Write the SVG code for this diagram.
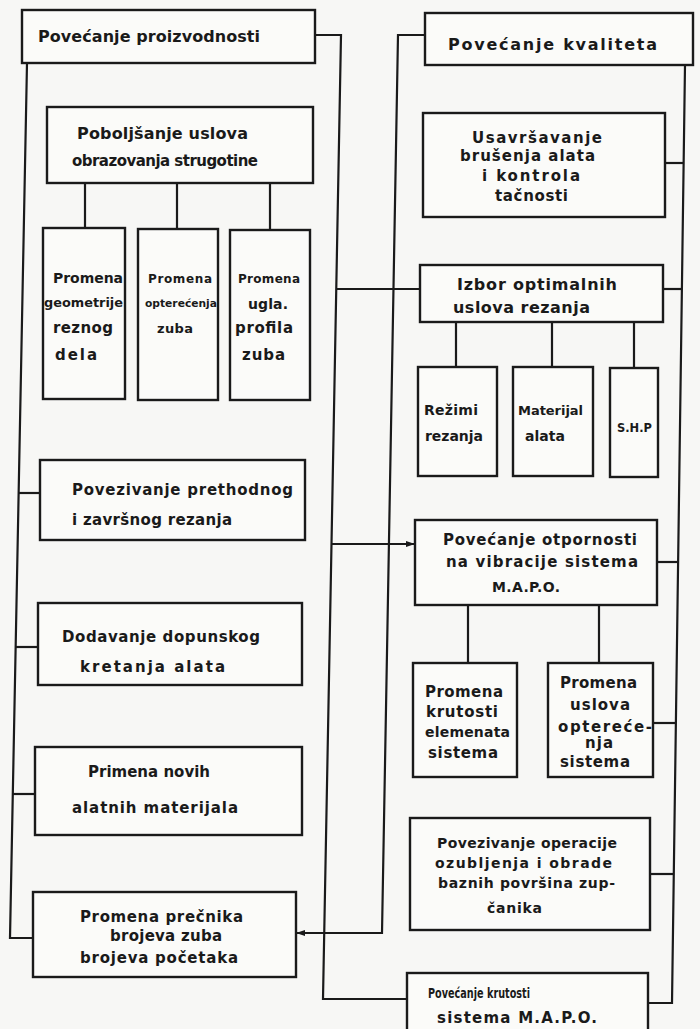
<svg xmlns="http://www.w3.org/2000/svg" width="700" height="1029" viewBox="0 0 700 1029">
<defs>
<style>
.bx{fill:#fbfbf9;stroke:#1a1a1a;stroke-width:2.4}
.ln{fill:none;stroke:#1a1a1a;stroke-width:2.2}
.t{font-family:"DejaVu Sans","Liberation Sans",sans-serif;font-weight:bold;font-size:15px;fill:#1a1a1a}
.l{font-size:16px}
.m{font-size:14px}
.s{font-size:13px}
.xs{font-size:12px}
.xxs{font-size:11px}
</style>
<marker id="ar" markerWidth="9" markerHeight="6" refX="8" refY="3" orient="auto" markerUnits="userSpaceOnUse">
<path d="M0,0 L9,3 L0,6 Z" fill="#1a1a1a"/>
</marker>
</defs>
<rect x="0" y="0" width="700" height="1029" fill="#f7f7f5"/>

<g id="connectors">
<path class="ln" d="M27,63 L10,938 L33,938"/>
<path class="ln" d="M18.6,493 H40"/>
<path class="ln" d="M15.6,647 H38"/>
<path class="ln" d="M12.8,794 H35"/>
<path class="ln" d="M315,35 H341 L323,999 H407"/>
<path class="ln" d="M336.3,289 H420"/>
<path class="ln" d="M331.5,544 H414" marker-end="url(#ar)"/>
<path class="ln" d="M425,35 H398 L382,933 H297" marker-end="url(#ar)"/>
<path class="ln" d="M685,65 L672,1003 H648"/>
<path class="ln" d="M665,163 H683.6"/>
<path class="ln" d="M663,289 H681.9"/>
<path class="ln" d="M657,562 H678.1"/>
<path class="ln" d="M653,723 H675.9"/>
<path class="ln" d="M650,874 H673.8"/>
<path class="ln" d="M85,183 V228 M177,183 V229 M270,183 V230"/>
<path class="ln" d="M456,322 V367 M552,322 V367 M634,322 V368"/>
<path class="ln" d="M468,605 V663 M599,605 V663"/>
</g>

<g id="n1"><rect class="bx" x="22" y="10" width="293" height="53"/>
<text class="t l" x="38" y="42" textLength="222" lengthAdjust="spacing">Povećanje proizvodnosti</text></g>

<g id="n2"><rect class="bx" x="47" y="107" width="266" height="76"/>
<text class="t l" x="77" y="139" textLength="171" lengthAdjust="spacing">Poboljšanje uslova</text>
<text class="t" x="72" y="166" textLength="186" lengthAdjust="spacing">obrazovanja strugotine</text></g>

<g id="n3"><rect class="bx" x="43" y="228" width="82" height="171"/>
<text class="t m" x="53" y="283" textLength="70" lengthAdjust="spacing">Promena</text>
<text class="t s" x="44" y="307" textLength="79" lengthAdjust="spacingAndGlyphs">geometrije</text>
<text class="t" x="53" y="333" textLength="60" lengthAdjust="spacing">reznog</text>
<text class="t" x="55" y="360" textLength="42" lengthAdjust="spacing">dela</text></g>

<g id="n4"><rect class="bx" x="138" y="229" width="80" height="171"/>
<text class="t xs" x="148" y="283" textLength="64" lengthAdjust="spacing">Promena</text>
<text class="t xxs" x="145" y="307" textLength="72" lengthAdjust="spacingAndGlyphs">opterećenja</text>
<text class="t s" x="157" y="333" textLength="36" lengthAdjust="spacing">zuba</text></g>

<g id="n5"><rect class="bx" x="230" y="230" width="80" height="170"/>
<text class="t xs" x="238" y="283" textLength="62" lengthAdjust="spacing">Promena</text>
<text class="t m" x="248" y="309" textLength="40" lengthAdjust="spacing">ugla.</text>
<text class="t" x="235" y="333" textLength="58" lengthAdjust="spacing">profila</text>
<text class="t" x="242" y="360" textLength="43" lengthAdjust="spacing">zuba</text></g>

<g id="n6"><rect class="bx" x="40" y="460" width="265" height="80"/>
<text class="t" x="72" y="495" textLength="221" lengthAdjust="spacing">Povezivanje prethodnog</text>
<text class="t" x="72" y="525" textLength="160" lengthAdjust="spacing">i završnog rezanja</text></g>

<g id="n7"><rect class="bx" x="38" y="603" width="264" height="82"/>
<text class="t" x="62" y="642" textLength="198" lengthAdjust="spacing">Dodavanje dopunskog</text>
<text class="t" x="80" y="672" textLength="145" lengthAdjust="spacing">kretanja alata</text></g>

<g id="n8"><rect class="bx" x="35" y="747" width="267" height="88"/>
<text class="t" x="88" y="777" textLength="122" lengthAdjust="spacing">Primena novih</text>
<text class="t" x="72" y="813" textLength="166" lengthAdjust="spacing">alatnih materijala</text></g>

<g id="n9"><rect class="bx" x="33" y="892" width="263" height="85"/>
<text class="t" x="80" y="922" textLength="163" lengthAdjust="spacing">Promena prečnika</text>
<text class="t" x="110" y="941" textLength="112" lengthAdjust="spacing">brojeva zuba</text>
<text class="t" x="80" y="963" textLength="158" lengthAdjust="spacing">brojeva početaka</text></g>

<g id="r1"><rect class="bx" x="425" y="13" width="268" height="52"/>
<text class="t l" x="448" y="50" textLength="209" lengthAdjust="spacing">Povećanje kvaliteta</text></g>

<g id="r2"><rect class="bx" x="423" y="113" width="242" height="104"/>
<text class="t" x="472" y="143" textLength="130" lengthAdjust="spacing">Usavršavanje</text>
<text class="t" x="460" y="161" textLength="135" lengthAdjust="spacing">brušenja alata</text>
<text class="t" x="482" y="181" textLength="98" lengthAdjust="spacing">i kontrola</text>
<text class="t" x="495" y="201" textLength="73" lengthAdjust="spacing">tačnosti</text></g>

<g id="r3"><rect class="bx" x="420" y="265" width="243" height="57"/>
<text class="t l" x="457" y="290" textLength="160" lengthAdjust="spacing">Izbor optimalnih</text>
<text class="t l" x="453" y="313" textLength="137" lengthAdjust="spacing">uslova rezanja</text></g>

<g id="r4"><rect class="bx" x="418" y="367" width="79" height="109"/>
<text class="t m" x="424" y="415" textLength="54" lengthAdjust="spacing">Režimi</text>
<text class="t m" x="425" y="441" textLength="58" lengthAdjust="spacing">rezanja</text></g>

<g id="r5"><rect class="bx" x="513" y="367" width="80" height="109"/>
<text class="t s" x="518" y="415" textLength="65" lengthAdjust="spacing">Materijal</text>
<text class="t m" x="525" y="441" textLength="40" lengthAdjust="spacing">alata</text></g>

<g id="r6"><rect class="bx" x="610" y="368" width="48" height="109"/>
<text class="t s" x="617" y="432" textLength="35" lengthAdjust="spacingAndGlyphs">S.H.P</text></g>

<g id="r7"><rect class="bx" x="415" y="520" width="242" height="85"/>
<text class="t" x="443" y="545" textLength="194" lengthAdjust="spacing">Povećanje otpornosti</text>
<text class="t" x="446" y="567" textLength="192" lengthAdjust="spacing">na vibracije sistema</text>
<text class="t m" x="492" y="592" textLength="68" lengthAdjust="spacing">M.A.P.O.</text></g>

<g id="r8"><rect class="bx" x="413" y="663" width="104" height="114"/>
<text class="t" x="425" y="697" textLength="78" lengthAdjust="spacing">Promena</text>
<text class="t" x="426" y="717" textLength="72" lengthAdjust="spacing">krutosti</text>
<text class="t m" x="425" y="737" textLength="85" lengthAdjust="spacing">elemenata</text>
<text class="t" x="428" y="758" textLength="70" lengthAdjust="spacing">sistema</text></g>

<g id="r9"><rect class="bx" x="548" y="663" width="105" height="114"/>
<text class="t" x="560" y="688" textLength="77" lengthAdjust="spacing">Promena</text>
<text class="t" x="570" y="710" textLength="60" lengthAdjust="spacing">uslova</text>
<text class="t" x="558" y="732" textLength="94" lengthAdjust="spacing">optereće-</text>
<text class="t" x="585" y="748" textLength="28" lengthAdjust="spacing">nja</text>
<text class="t" x="560" y="767" textLength="70" lengthAdjust="spacing">sistema</text></g>

<g id="r10"><rect class="bx" x="410" y="818" width="240" height="112"/>
<text class="t m" x="437" y="848" textLength="180" lengthAdjust="spacing">Povezivanje operacije</text>
<text class="t m" x="435" y="868" textLength="177" lengthAdjust="spacing">ozubljenja i obrade</text>
<text class="t m" x="438" y="888" textLength="177" lengthAdjust="spacing">baznih površina zup-</text>
<text class="t m" x="487" y="913" textLength="55" lengthAdjust="spacing">čanika</text></g>

<g id="r11"><rect class="bx" x="407" y="973" width="241" height="60"/>
<text class="t m" x="428" y="998" textLength="102" lengthAdjust="spacingAndGlyphs">Povećanje krutosti</text>
<text class="t" x="437" y="1023" textLength="160" lengthAdjust="spacing">sistema M.A.P.O.</text></g>
</svg>
